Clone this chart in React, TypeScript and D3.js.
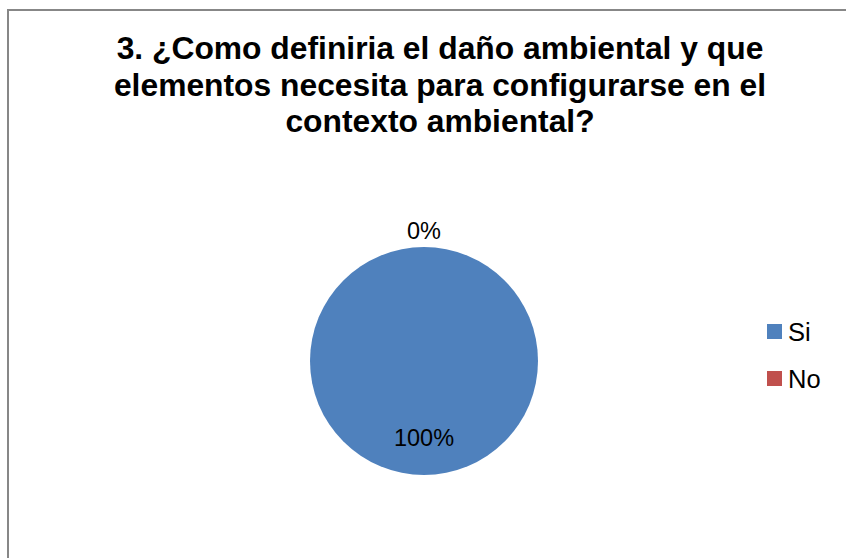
import { useMemo } from "react";
import { pie, arc, PieArcDatum } from "d3";

const categories = ["Si", "No"];
const values = [100, 0];
const colors = ["#4f81bd", "#c0504d"];
const titleLines = [
  "3. ¿Como definiria el daño ambiental y que",
  "elementos necesita para configurarse en el",
  "contexto ambiental?",
];

const WIDTH = 846;
const HEIGHT = 558;
const CX = 424;
const CY = 361;
const R = 114;
const FONT = "'Liberation Sans', Arial, sans-serif";

type Slice = { label: string; value: number; color: string };

export default function App() {
  const data: Slice[] = categories.map((c, i) => ({ label: c, value: values[i], color: colors[i] }));
  const total = values.reduce((a, b) => a + b, 0);

  const arcs = useMemo(
    () =>
      pie<Slice>()
        .sort(null)
        .value((d) => d.value)(data),
    []
  );

  const pathGen = arc<PieArcDatum<Slice>>().innerRadius(0).outerRadius(R);
  const insideLabel = arc<PieArcDatum<Slice>>().innerRadius(R * 0.67).outerRadius(R * 0.67);
  const outsideLabel = arc<PieArcDatum<Slice>>().innerRadius(R * 1.14).outerRadius(R * 1.14);

  return (
    <div style={{ position: "fixed", left: 0, top: 0 }}>
      <svg width={WIDTH} height={HEIGHT} viewBox={`0 0 ${WIDTH} ${HEIGHT}`} style={{ display: "block", background: "#fff" }}>
        {/* chart frame, runs past the picture's right and bottom edge */}
        <rect x={8} y={10} width={WIDTH + 20} height={HEIGHT + 20} fill="#fff" stroke="#878787" strokeWidth={2} />

        {titleLines.map((t, i) => (
          <text key={i} x={440} y={59 + i * 36.5} textAnchor="middle" fontFamily={FONT} fontSize={31.8} fontWeight={700} fill="#000">
            {t}
          </text>
        ))}

        <g transform={`translate(${CX},${CY})`}>
          {arcs.map((a, i) =>
            a.value > 0 ? <path key={i} d={pathGen(a) ?? ""} fill={a.data.color} /> : null
          )}
          {arcs.map((a, i) => {
            const [lx, ly] = a.value > 0 ? insideLabel.centroid(a) : outsideLabel.centroid(a);
            return (
              <text key={i} x={lx} y={ly} dy="0.35em" textAnchor="middle" fontFamily={FONT} fontSize={23.5} fill="#000">
                {`${Math.round((a.value / total) * 100)}%`}
              </text>
            );
          })}
        </g>

        {/* Legend */}
        {data.map((d, i) => (
          <g key={d.label} transform={`translate(767,${324 + i * 47})`}>
            <rect x={0} y={0} width={15} height={15} fill={d.color} />
            <text x={21} y={17} fontFamily={FONT} fontSize={25.5} fill="#000">
              {d.label}
            </text>
          </g>
        ))}
      </svg>
    </div>
  );
}
